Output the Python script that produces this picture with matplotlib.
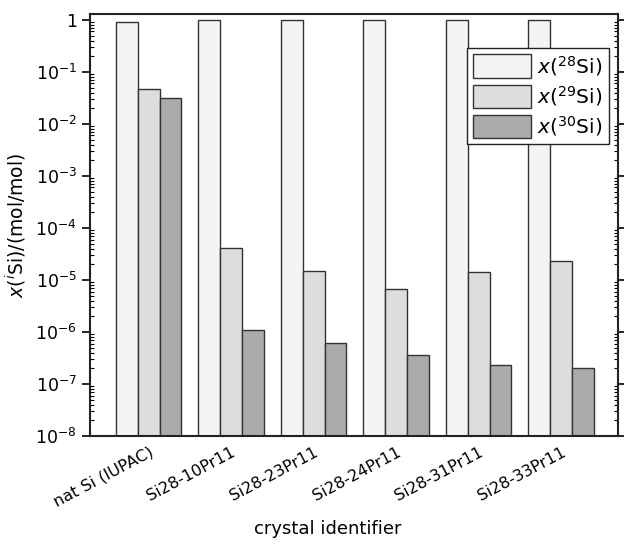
import numpy as np
import matplotlib.pyplot as plt
from matplotlib.ticker import LogLocator, FixedLocator, NullFormatter

# kristaller ve izotop mol kesirleri
kristaller = ["nat Si (IUPAC)", "Si28-10Pr11", "Si28-23Pr11",
              "Si28-24Pr11", "Si28-31Pr11", "Si28-33Pr11"]
x28 = [0.92223, 0.99995, 0.99998, 0.99999, 0.99998, 0.99997]
x29 = [0.04685, 4.2e-5, 1.5e-5, 6.6e-6, 1.44e-5, 2.35e-5]
x30 = [0.03092, 1.1e-6, 6.1e-7, 3.6e-7, 2.3e-7, 2.0e-7]

etiketler = [r"$x$($^{28}$Si)", r"$x$($^{29}$Si)", r"$x$($^{30}$Si)"]
renkler = ["#f4f4f4", "#dcdedd", "#aaabaa"]

fig = plt.figure(figsize=(6.24, 5.44), dpi=100)
ax = fig.add_axes([90 / 624, 1 - 436 / 544, 528 / 624, 422 / 544])

pos = np.arange(len(kristaller))
w = 0.265
for i, seri in enumerate([x28, x29, x30]):
    ax.bar(pos + (i - 1) * w, seri, width=w, color=renkler[i],
           edgecolor="#333333", linewidth=1.0, label=etiketler[i], zorder=2)

ax.set_yscale("log")
ax.set_ylim(1e-8, 1.3)
ax.set_xlim(-0.71, 5.69)

ax.yaxis.set_major_locator(FixedLocator([10.0 ** k for k in range(-8, 1)]))
ax.yaxis.set_minor_locator(LogLocator(base=10, subs=np.arange(2, 10), numticks=20))
ax.yaxis.set_minor_formatter(NullFormatter())
ticklab = [r"$10^{%d}$" % k for k in range(-8, 0)] + ["1"]
ax.set_yticklabels(ticklab, fontsize=12.5)

ax.tick_params(axis="y", which="major", direction="out", length=6, width=1.2,
               right=True, labelright=False)
ax.tick_params(axis="y", which="minor", direction="in", length=3, width=0.8,
               right=True)

ax.set_xticks(pos)
ax.set_xticklabels(kristaller, rotation=28, ha="right", rotation_mode="anchor",
                   fontsize=11.5)
ax.tick_params(axis="x", length=0, pad=6)

for s in ax.spines.values():
    s.set_linewidth(1.5)
    s.set_color("#222222")

ax.set_xlabel("crystal identifier", fontsize=13)
ax.xaxis.set_label_coords(0.45, -0.2)
ax.set_ylabel(r"$x$($^{i}$Si)/(mol/mol)", fontsize=13.5, labelpad=5)

leg = ax.legend(loc="upper right", bbox_to_anchor=(0.99, 0.93), fontsize=14.5,
                fancybox=False, framealpha=1, edgecolor="#222222",
                handlelength=2.9, handleheight=1.4, borderpad=0.3,
                labelspacing=0.3, handletextpad=0.3, borderaxespad=0.2)
leg.get_frame().set_linewidth(1.0)

fig.savefig("out.png", dpi=100)
